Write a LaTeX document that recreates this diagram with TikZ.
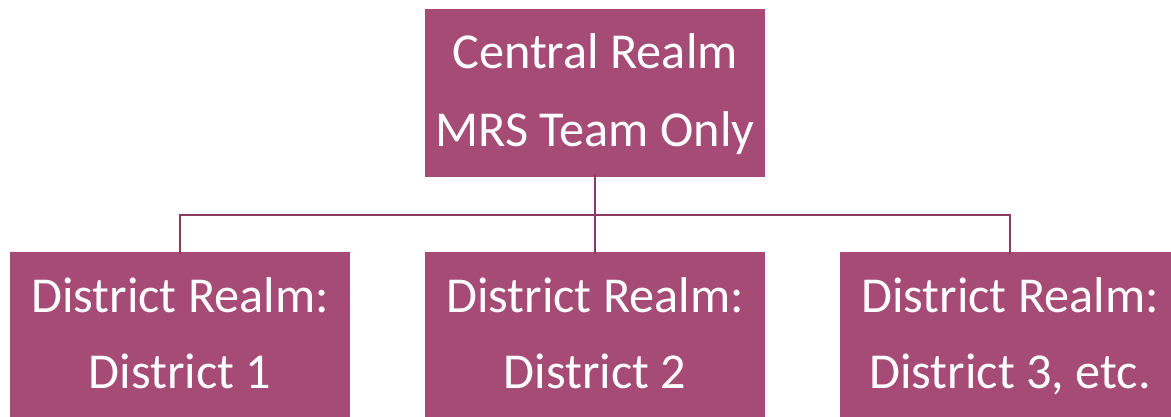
\documentclass[tikz,border=0pt]{standalone}
\usepackage{fontspec}
\setmainfont{Carlito}
\definecolor{boxfill}{RGB}{166,74,118}
\definecolor{linecol}{RGB}{140,58,98}
\begin{document}
\begin{tikzpicture}[x=1pt,y=-1pt,
  realm/.style={draw=none,fill=boxfill,minimum width=340pt,minimum height=168pt,inner sep=0pt,outer sep=0pt},
  lbl/.style={anchor=base,text=white,inner sep=0pt,font=\fontsize{50.3}{60}\selectfont},
  conn/.style={draw=linecol,line width=2.5pt}]
\useasboundingbox (0,0) rectangle (1171,416);
\begin{scope}
\clip (0,0) rectangle (1171,416);
\node[realm] (top) at (595,93) {};
\node[realm] (d1) at (180,336) {};
\node[realm] (d2) at (595,336) {};
\node[realm] (d3) at (1010,336) {};
\end{scope}
\node[lbl] (t1) at (595,68) {Central Realm};
\node[lbl] (t2) at (595,146) {MRS Team Only};
\node[lbl] (a1) at (180,312) {District Realm:};
\node[lbl] (a2) at (180,388) {District 1};
\node[lbl] (b1) at (595,312) {District Realm:};
\node[lbl] (b2) at (595,388) {District 2};
\node[lbl] (c1) at (1010,312) {District Realm:};
\node[lbl] (c2) at (1010,388) {District 3, etc.};
\coordinate (hub) at (595,215);
\draw[conn] ([yshift=3pt]top.south) -- (hub);
\draw[conn] (hub) -| ([yshift=-2pt]d1.north);
\draw[conn] (hub) -| ([yshift=-2pt]d3.north);
\draw[conn] (hub) -- ([yshift=-2pt]d2.north);
\end{tikzpicture}
\end{document}
